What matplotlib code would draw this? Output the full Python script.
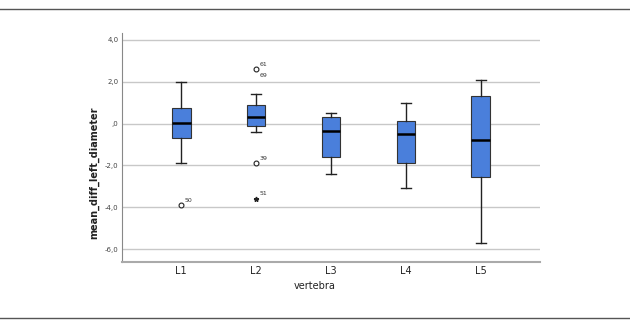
import matplotlib
matplotlib.use("Agg")
import matplotlib.pyplot as plt
from matplotlib.lines import Line2D

categories = ["L1", "L2", "L3", "L4", "L5"]
whislo = [-1.9, -0.4, -2.4, -3.1, -5.7]
q1 = [-0.7, -0.1, -1.6, -1.9, -2.55]
med = [0.05, 0.3, -0.35, -0.5, -0.8]
q3 = [0.75, 0.9, 0.3, 0.1, 1.3]
whishi = [2.0, 1.4, 0.5, 1.0, 2.1]

# outliers: (category index, value, label, marker)
out_cat = [0, 1, 1, 1]
out_val = [-3.9, 2.6, -1.9, -3.6]
out_lab = ["50", "61", "39", "51"]
out_mark = ["o", "o", "o", "*"]
extra_lab_cat = [1]
extra_lab_val = [2.6]
extra_lab = ["69"]

yticks = [4, 2, 0, -2, -4, -6]
ytick_labels = ["4,0", "2,0", ",0", "-2,0", "-4,0", "-6,0"]

fig = plt.figure(figsize=(6.3, 3.31), dpi=100)
fig.patch.set_facecolor("white")
fig.add_artist(Line2D([0, 1], [1 - 9/331, 1 - 9/331], color="#555555", lw=1.0))
fig.add_artist(Line2D([0, 1], [1 - 318/331, 1 - 318/331], color="#555555", lw=1.0))

ax = fig.add_axes([122/630, 1 - 262/331, (540 - 122)/630, (262 - 33)/331])

stats = []
for i in range(len(categories)):
    stats.append(dict(whislo=whislo[i], q1=q1[i], med=med[i], q3=q3[i],
                      whishi=whishi[i], fliers=[], label=categories[i]))

ax.bxp(stats, positions=range(len(categories)), widths=0.25, patch_artist=True,
       showfliers=False,
       boxprops=dict(facecolor="#4a7fdb", edgecolor="#333333", linewidth=0.8),
       medianprops=dict(color="black", linewidth=1.8),
       whiskerprops=dict(color="#222222", linewidth=1.0),
       capprops=dict(color="#222222", linewidth=1.0),
       capwidths=0.13)

for c, v, lab, m in zip(out_cat, out_val, out_lab, out_mark):
    if m == "o":
        ax.plot(c, v, marker="o", markersize=3.5, markerfacecolor="white",
                markeredgecolor="#222222", markeredgewidth=0.8, zorder=5)
    else:
        ax.plot(c, v, marker="*", markersize=3.5, color="#222222", zorder=5)
    ax.annotate(lab, (c, v), xytext=(2.5, 2.5), textcoords="offset points",
                fontsize=4.5, color="#333333")
for c, v, lab in zip(extra_lab_cat, extra_lab_val, extra_lab):
    ax.annotate(lab, (c, v), xytext=(2.5, -5.5), textcoords="offset points",
                fontsize=4.5, color="#333333")

ax.set_xlim(-0.79, 4.79)
ax.set_ylim(-6.62, 4.33)
ax.set_yticks(yticks)
ax.set_yticklabels(ytick_labels)
ax.yaxis.grid(True, color="#c8c8c8", linewidth=1.0)
ax.set_axisbelow(True)
for s in ["top", "right"]:
    ax.spines[s].set_visible(False)
ax.spines["left"].set_color("#888888")
ax.spines["bottom"].set_color("#aaaaaa")
ax.spines["bottom"].set_linewidth(1.5)
ax.tick_params(axis="y", length=0, labelsize=5, labelcolor="#444444", pad=2.5)
ax.tick_params(axis="x", length=0, labelsize=7, labelcolor="#222222", pad=3)
ax.set_xlabel("vertebra", fontsize=7, color="#222222")
ax.xaxis.set_label_coords((315 - 122) / 418, (262 - 281) / 229)
ax.set_ylabel("mean_diff_left_diameter", fontsize=7, fontweight="bold",
              color="#222222")
ax.yaxis.set_label_coords((99 - 122) / 418, (262 - 173) / 229)

fig.savefig("out.png", dpi=100)
